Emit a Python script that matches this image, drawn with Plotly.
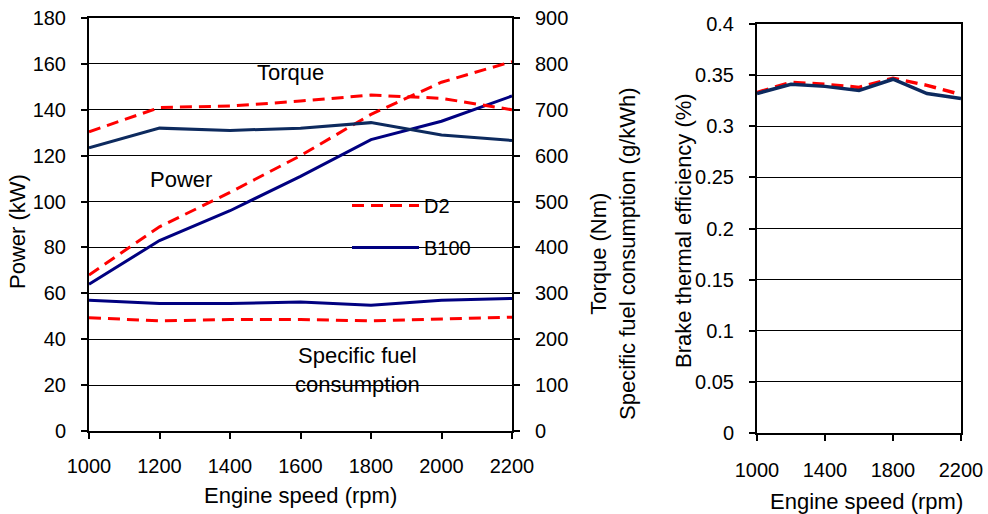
import plotly.graph_objects as go

rpm = [1000, 1200, 1400, 1600, 1800, 2000, 2200]
torque_d2 = [652, 705, 708, 719, 732, 725, 700]
torque_b100 = [617, 660, 655, 660, 672, 645, 633]
power_d2 = [68, 89, 104, 120, 138, 152, 161]
power_b100 = [64, 83, 96, 111, 127, 135, 146]
sfc_d2 = [247, 240, 243, 243, 240, 244, 248]
sfc_b100 = [285, 278, 278, 281, 274, 285, 289]
eff_d2 = [0.333, 0.343, 0.341, 0.338, 0.347, 0.340, 0.331]
eff_b100 = [0.332, 0.341, 0.339, 0.335, 0.346, 0.332, 0.327]

W, H = 988, 514
FONT = "Liberation Sans, Arial, sans-serif"
RED = "#ff0000"
NAVY = "#000080"
NAVY2 = "#0d2a5e"
DASH = "12px,7px"


def px(x):
    return x / W


def py(y):
    return 1 - y / H


fig = go.Figure()

# Left chart: D2 first, B100 on top
fig.add_trace(go.Scatter(x=rpm, y=torque_d2, yaxis="y2", xaxis="x", mode="lines",
                         line=dict(color=RED, width=3, dash=DASH),
                         name="D2", legendgroup="D2", showlegend=True))
fig.add_trace(go.Scatter(x=rpm, y=power_d2, yaxis="y", xaxis="x", mode="lines",
                         line=dict(color=RED, width=3, dash=DASH),
                         name="D2", legendgroup="D2", showlegend=False))
fig.add_trace(go.Scatter(x=rpm, y=sfc_d2, yaxis="y2", xaxis="x", mode="lines",
                         line=dict(color=RED, width=3, dash=DASH),
                         name="D2", legendgroup="D2", showlegend=False))
fig.add_trace(go.Scatter(x=rpm, y=torque_b100, yaxis="y2", xaxis="x", mode="lines",
                         line=dict(color=NAVY2, width=3),
                         name="B100", legendgroup="B100", showlegend=False))
fig.add_trace(go.Scatter(x=rpm, y=power_b100, yaxis="y", xaxis="x", mode="lines",
                         line=dict(color=NAVY, width=3),
                         name="B100", legendgroup="B100", showlegend=True))
fig.add_trace(go.Scatter(x=rpm, y=sfc_b100, yaxis="y2", xaxis="x", mode="lines",
                         line=dict(color=NAVY, width=3),
                         name="B100", legendgroup="B100", showlegend=False))

# Right chart
fig.add_trace(go.Scatter(x=rpm, y=eff_d2, xaxis="x3", yaxis="y3", mode="lines",
                         line=dict(color=RED, width=3.5, dash=DASH),
                         name="D2", legendgroup="D2", showlegend=False))
fig.add_trace(go.Scatter(x=rpm, y=eff_b100, xaxis="x3", yaxis="y3", mode="lines",
                         line=dict(color=NAVY2, width=3.5),
                         name="B100", legendgroup="B100", showlegend=False))

tickfont = dict(family=FONT, size=20, color="black")
axis_common = dict(showline=True, linecolor="black", linewidth=2,
                   ticks="outside", ticklen=6, tickwidth=2, tickcolor="black",
                   tickfont=tickfont, zeroline=False, automargin=False,
                   ticklabeloverflow="allow")

fig.update_layout(
    width=W, height=H,
    margin=dict(l=0, r=0, t=0, b=0, autoexpand=False),
    paper_bgcolor="white", plot_bgcolor="white",
    font=dict(family=FONT, color="black"),
    xaxis=dict(domain=[px(89), px(512)], range=[1000, 2200], dtick=200,
               tick0=1000, mirror=True, showgrid=False, anchor="y",
               ticklabelstandoff=10, **axis_common),
    yaxis=dict(domain=[py(431), py(18)], range=[0, 180], dtick=20,
               showgrid=True, gridcolor="black", gridwidth=1, anchor="x",
               ticklabelstandoff=11, **axis_common),
    yaxis2=dict(range=[0, 900], dtick=100, overlaying="y", side="right",
                anchor="x", showgrid=False, ticklabelstandoff=11, **axis_common),
    xaxis3=dict(domain=[px(757), px(961)], range=[1000, 2200], dtick=400,
                tick0=1000, mirror=True, showgrid=False, anchor="y3",
                ticklabelstandoff=12, **axis_common),
    yaxis3=dict(domain=[py(433), py(24)], range=[0, 0.4], dtick=0.05,
                showgrid=True, gridcolor="black", gridwidth=1, anchor="x3",
                mirror=True, ticklabelstandoff=11, **axis_common),
    legend=dict(x=px(347), y=py(186), xanchor="left", yanchor="top",
                bgcolor="rgba(0,0,0,0)", font=dict(family=FONT, size=20),
                traceorder="grouped", tracegroupgap=13, itemwidth=67),
    showlegend=True,
    hovermode=False,
)

# white breaks in gridlines behind labels (between grid and traces)
for (x0, x1, y0, y1) in [(243, 337, 52, 88), (330, 493, 190, 262), (252, 464, 328, 398)]:
    fig.add_shape(type="rect", xref="paper", yref="paper",
                  x0=px(x0), x1=px(x1), y0=py(y1), y1=py(y0),
                  fillcolor="white", line=dict(width=0), layer="between")


def label(text, x, y, size, angle=0):
    fig.add_annotation(text=text, x=px(x), y=py(y), xref="paper", yref="paper",
                       xanchor="center", yanchor="middle", showarrow=False,
                       textangle=angle, font=dict(family=FONT, size=size, color="black"))


label("Torque", 290, 73, 22)
label("Power", 181, 179, 22)
label("Specific fuel<br>consumption", 357, 370, 22)

label("Power (kW)", 18, 232, 22, -90)
label("Torque (Nm)<br>Specific fuel consumption (g/kWh)", 613, 254, 22, -90)
label("Brake thermal efficiency (%)", 684, 231, 22, -90)
label("Engine speed (rpm)", 300, 495, 22)
label("Engine speed (rpm)", 866, 501, 22)

# remove the default 8px page margin so the 988x514 figure fills the window
fig.write_html("out.html",
               config={"displayModeBar": False},
               post_script="document.body.style.margin='0';"
                           "document.body.style.overflow='hidden';")
